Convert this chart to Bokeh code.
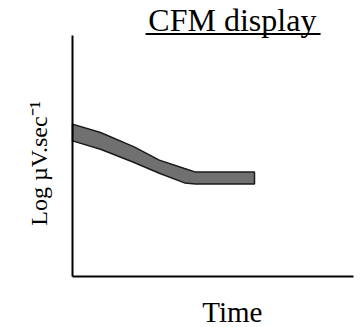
from math import pi
from bokeh.plotting import figure
from bokeh.models import Label, BoxAnnotation, Range1d, FixedTicker
from bokeh.embed import file_html
from bokeh.resources import INLINE

# data (arbitrary units): a band for the CFM trace
time = [0.0, 1.0, 2.2, 3.1, 4.0, 4.4, 6.5]
log_uv_upper = [6.35, 6.0, 5.4, 4.85, 4.5, 4.35, 4.35]
log_uv_lower = [5.65, 5.3, 4.75, 4.3, 3.9, 3.85, 3.85]

title_text = "CFM display"
x_label = "Time"
y_label = "Log µV.sec⁻¹"

p = figure(width=360, height=327, output_backend="svg", toolbar_location=None,
           x_range=Range1d(-72 / 28, 288 / 28), y_range=Range1d(-51 / 24, 276 / 24),
           min_border_left=0, min_border_right=0, min_border_top=0, min_border_bottom=0)
p.outline_line_color = None
p.grid.visible = False
for ax in (p.xaxis[0], p.yaxis[0]):
    ax.fixed_location = 0
    ax.ticker = FixedTicker(ticks=[])
    ax.major_tick_line_color = None
    ax.minor_tick_line_color = None
    ax.major_tick_out = 0
    ax.major_tick_in = 0
    ax.minor_tick_out = 0
    ax.major_label_standoff = 0
    ax.major_label_text_font_size = "0px"
    ax.axis_line_color = "black"
    ax.axis_line_width = 2
p.xaxis[0].bounds = (0, 10.05)
p.yaxis[0].bounds = (0, 10.05)

p.patch(time + time[::-1], log_uv_upper + log_uv_lower[::-1],
        fill_color="#707070", line_color="#1a1a1a", line_width=1.5)

serif = "Liberation Serif"
p.add_layout(Label(x=5.71, y=10.7, text=title_text, text_color="black",
                   text_font=serif, text_font_size="32px", text_align="center",
                   text_baseline="middle"))
p.add_layout(BoxAnnotation(left=2.61, right=8.86, top=10.15, bottom=10.06,
                           fill_color="black", fill_alpha=1, line_color=None))
p.add_layout(Label(x=5.71, y=-1.47, text=x_label, text_color="black",
                   text_font=serif, text_font_size="29px", text_align="center",
                   text_baseline="middle"))
p.add_layout(Label(x=-1.19, y=4.71, text=y_label, text_color="black",
                   text_font=serif, text_font_size="24px", text_align="center",
                   text_baseline="middle", angle=pi / 2))

open("out.html", "w").write(file_html(p, INLINE))
